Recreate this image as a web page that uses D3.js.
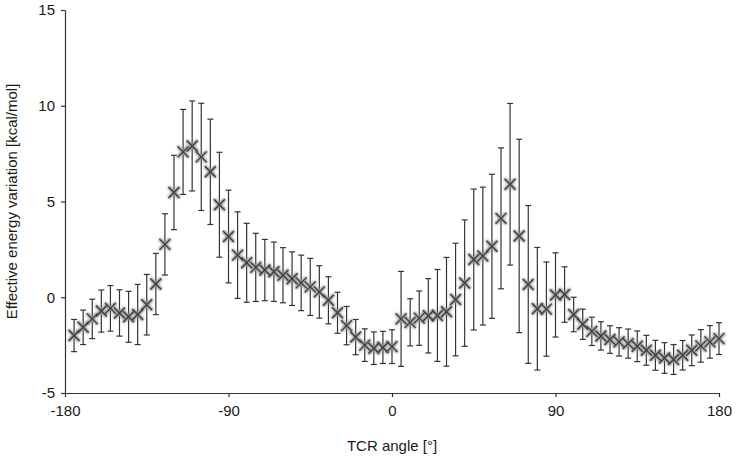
<!DOCTYPE html>
<html>
<head>
<meta charset="utf-8">
<script src="https://cdn.jsdelivr.net/npm/d3@7"></script>
<style>
  html, body { margin: 0; padding: 0; background: #fff; overflow: hidden; }
  svg { display: block; }
</style>
</head>
<body>
<div id="chart"></div>
<script>
// TCR angle (degrees), mean energy and error (kcal/mol)
const angles = [-175, -170, -165, -160, -155, -150, -145, -140, -135, -130,
  -125, -120, -115, -110, -105, -100, -95, -90, -85, -80,
  -75, -70, -65, -60, -55, -50, -45, -40, -35, -30,
  -25, -20, -15, -10, -5, 0, 5, 10, 15, 20,
  25, 30, 35, 40, 45, 50, 55, 60, 65, 70,
  75, 80, 85, 90, 95, 100, 105, 110, 115, 120,
  125, 130, 135, 140, 145, 150, 155, 160, 165, 170,
  175, 180];
const energy = [-2.0, -1.57, -1.13, -0.72, -0.58, -0.82, -1.02, -0.9, -0.39, 0.69,
  2.76, 5.47, 7.59, 7.9, 7.33, 6.55, 4.83, 3.17, 2.2, 1.8,
  1.56, 1.42, 1.33, 1.15, 0.97, 0.75, 0.54, 0.28, -0.16, -0.81,
  -1.48, -2.08, -2.5, -2.66, -2.62, -2.58, -1.13, -1.31, -1.09, -0.97,
  -0.95, -0.76, -0.12, 0.74, 1.97, 2.15, 2.66, 4.12, 5.9, 3.2,
  0.67, -0.6, -0.62, 0.12, 0.14, -0.9, -1.41, -1.78, -2.02, -2.21,
  -2.33, -2.42, -2.56, -2.77, -3.03, -3.17, -3.25, -3.03, -2.77, -2.54,
  -2.33, -2.16];
const errors = [0.84, 0.9, 1.03, 1.1, 1.19, 1.21, 1.33, 1.57, 1.58, 1.6,
  1.6, 1.94, 2.22, 2.35, 2.8, 2.75, 2.74, 2.42, 2.26, 2.06,
  1.78, 1.6, 1.55, 1.44, 1.4, 1.45, 1.49, 1.37, 1.23, 1.07,
  1.0, 0.92, 0.85, 0.85, 0.84, 0.88, 2.48, 1.23, 1.42, 1.94,
  2.4, 2.84, 2.94, 3.3, 3.68, 3.6, 3.76, 3.68, 4.22, 5.05,
  4.12, 3.2, 2.46, 2.2, 1.45, 0.9, 0.79, 0.74, 0.74, 0.72,
  0.74, 0.76, 0.8, 0.78, 0.78, 0.8, 0.78, 0.77, 0.8, 0.85,
  0.85, 0.83];
const xTicks = [-180, -90, 0, 90, 180];
const yTicks = [-5, 0, 5, 10, 15];

const width = 738, height = 461;
const margin = { top: 10, right: 19, bottom: 68, left: 65 };
const innerWidth = width - margin.left - margin.right;
const innerHeight = height - margin.top - margin.bottom;
const fontFamily = '"Liberation Sans", Arial, Helvetica, sans-serif';

const data = angles.map((a, i) => ({ angle: a, value: energy[i], err: errors[i] }));

const svg = d3.select("#chart")
  .append("svg")
  .attr("width", width)
  .attr("height", height)
  .attr("font-family", fontFamily);

svg.append("defs").append("filter")
  .attr("id", "soft")
  .attr("x", "-50%").attr("y", "-50%").attr("width", "200%").attr("height", "200%")
  .append("feGaussianBlur")
  .attr("stdDeviation", 1.2);

const g = svg.append("g")
  .attr("transform", `translate(${margin.left},${margin.top})`);

const xScale = d3.scaleLinear().domain([-180, 180]).range([0, innerWidth]);
const yScale = d3.scaleLinear().domain([-5, 15]).range([innerHeight, 0]);

// axes
const xAxis = g.append("g")
  .attr("transform", `translate(0,${innerHeight})`)
  .call(d3.axisBottom(xScale).tickValues(xTicks).tickSize(4).tickSizeOuter(0).tickPadding(8).tickFormat(d3.format("d")));
const yAxis = g.append("g")
  .call(d3.axisLeft(yScale).tickValues(yTicks).tickSize(4).tickSizeOuter(0).tickPadding(6).tickFormat(d3.format("d")));

[xAxis, yAxis].forEach(ax => {
  ax.attr("font-size", 15).attr("font-family", fontFamily);
  ax.select(".domain").attr("stroke", "#333").attr("stroke-width", 1.2);
  ax.selectAll(".tick line").attr("stroke", "#333").attr("stroke-width", 1.2);
  ax.selectAll(".tick text").attr("fill", "#1a1a1a").text(d => d < 0 ? "-" + Math.abs(d) : d);
});

// error bars
const capHalf = 3;
const bars = g.append("g").selectAll("g.err")
  .data(data)
  .enter()
  .append("g")
  .attr("class", "err")
  .attr("stroke", "#333")
  .attr("stroke-width", 1.2);

bars.append("line")
  .attr("x1", d => xScale(d.angle)).attr("x2", d => xScale(d.angle))
  .attr("y1", d => yScale(d.value + d.err)).attr("y2", d => yScale(d.value - d.err));
bars.append("line")
  .attr("x1", d => xScale(d.angle) - capHalf).attr("x2", d => xScale(d.angle) + capHalf)
  .attr("y1", d => yScale(d.value + d.err)).attr("y2", d => yScale(d.value + d.err));
bars.append("line")
  .attr("x1", d => xScale(d.angle) - capHalf).attr("x2", d => xScale(d.angle) + capHalf)
  .attr("y1", d => yScale(d.value - d.err)).attr("y2", d => yScale(d.value - d.err));

// x markers with a soft grey shadow
const m = 5.5;
const cross = d => {
  const x = xScale(d.angle), y = yScale(d.value);
  return `M${x - m},${y - m}L${x + m},${y + m}M${x - m},${y + m}L${x + m},${y - m}`;
};
g.append("g").selectAll("path.halo")
  .data(data)
  .enter()
  .append("path")
  .attr("class", "halo")
  .attr("d", cross)
  .attr("stroke", "#8f8f8f")
  .attr("stroke-width", 3.4)
  .attr("fill", "none")
  .attr("filter", "url(#soft)");
g.append("g").selectAll("path.mark")
  .data(data)
  .enter()
  .append("path")
  .attr("class", "mark")
  .attr("d", cross)
  .attr("stroke", "#3d3d3d")
  .attr("stroke-width", 1.3)
  .attr("fill", "none");

// axis titles
svg.append("text")
  .attr("x", margin.left + xScale(0))
  .attr("y", 451)
  .attr("text-anchor", "middle")
  .attr("font-size", 15)
  .attr("fill", "#1a1a1a")
  .text("TCR angle [°]");

svg.append("text")
  .attr("transform", `translate(17,${margin.top + innerHeight / 2}) rotate(-90)`)
  .attr("text-anchor", "middle")
  .attr("font-size", 15)
  .attr("fill", "#1a1a1a")
  .text("Effective energy variation [kcal/mol]");
</script>
</body>
</html>
